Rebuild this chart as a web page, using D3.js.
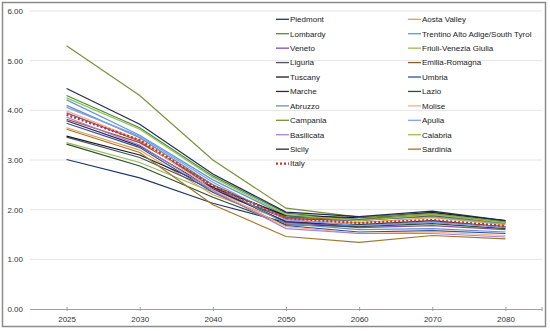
<!DOCTYPE html>
<html><head><meta charset="utf-8">
<script src="https://cdn.jsdelivr.net/npm/d3@7"></script>
<style>body{margin:0;background:#fff}svg{display:block;font-family:"Liberation Sans",Arial,sans-serif}</style>
</head><body><svg id="c" width="550" height="331"></svg>
<script>
const years = ["2025","2030","2040","2050","2060","2070","2080"];
const yTicks = [0,1,2,3,4,5,6];
const regions = ["Piedmont","Aosta Valley","Lombardy","Trentino Alto Adige/South Tyrol","Veneto","Friuli-Venezia Giulia","Liguria","Emilia-Romagna","Tuscany","Umbria","Marche","Lazio","Abruzzo","Molise","Campania","Apulia","Basilicata","Calabria","Sicily","Sardinia","Italy"];
const colors = ["#203864","#e0a15a","#4e8a3e","#5b9bd5","#7e50b0","#9bbb59","#44546a","#8b5a2b","#1a1a1a","#2e5597","#3c1f4f","#2f4f2f","#6a8fc0","#f4b183","#77933c","#7f9fef","#a77fd6","#92c050","#1f2d50","#a0782a","#c0392b"];
const piedmont   = [3.01,2.64,2.13,1.74,1.70,1.78,1.65];
const aosta      = [3.65,3.20,2.30,1.78,1.74,1.84,1.70];
const lombardy   = [4.30,3.65,2.68,1.93,1.80,1.95,1.77];
const trentino   = [4.21,3.50,2.60,1.88,1.80,1.86,1.72];
const veneto     = [3.95,3.38,2.45,1.75,1.64,1.68,1.60];
const friuli     = [3.35,2.95,2.35,1.85,1.80,1.87,1.73];
const liguria    = [3.46,3.05,2.40,1.82,1.78,1.88,1.74];
const emilia     = [3.82,3.35,2.50,1.85,1.80,1.90,1.75];
const tuscany    = [3.48,3.10,2.45,1.88,1.84,1.94,1.78];
const umbria     = [3.74,3.25,2.35,1.68,1.55,1.58,1.52];
const marche     = [3.79,3.28,2.42,1.76,1.68,1.75,1.66];
const lazio      = [3.32,2.88,2.25,1.70,1.66,1.72,1.62];
const abruzzo    = [4.10,3.45,2.50,1.72,1.60,1.62,1.55];
const molise     = [3.99,3.40,2.40,1.66,1.52,1.55,1.48];
const campania   = [5.30,4.30,3.00,2.03,1.85,1.92,1.76];
const apulia     = [4.06,3.48,2.55,1.80,1.68,1.75,1.65];
const basilicata = [3.86,3.30,2.38,1.62,1.52,1.52,1.45];
const calabria   = [4.25,3.62,2.65,1.90,1.78,1.90,1.74];
const sicily     = [4.44,3.72,2.72,1.95,1.86,1.97,1.78];
const sardinia   = [3.62,3.15,2.10,1.46,1.34,1.48,1.41];
const italy      = [3.91,3.40,2.48,1.83,1.73,1.79,1.67];
const values = [piedmont,aosta,lombardy,trentino,veneto,friuli,liguria,emilia,tuscany,umbria,marche,lazio,abruzzo,molise,campania,apulia,basilicata,calabria,sicily,sardinia,italy];

const svg = d3.select("#c");
svg.append("rect").attr("x",2.5).attr("y",2.5).attr("width",543).attr("height",324)
  .attr("fill","#fff").attr("stroke","#8c8c8c").attr("stroke-width",1.5);

const x = d3.scalePoint().domain(years).range([30,542]).padding(0.5);
const y = d3.scaleLinear().domain([0,6]).range([309,11]);

// gridlines
svg.append("g").selectAll("line").data(yTicks.filter(d=>d>0)).join("line")
  .attr("x1",30).attr("x2",542).attr("y1",d=>y(d)).attr("y2",d=>y(d))
  .attr("stroke","#e4e4e4").attr("stroke-width",1);

// y axis labels
const ya = svg.append("g").attr("transform","translate(23,0)")
  .call(d3.axisLeft(y).tickValues(yTicks).tickFormat(d3.format(".2f")).tickSize(0).tickPadding(0));
ya.select(".domain").remove();
ya.selectAll("text").attr("font-size",8).attr("fill","#333").attr("font-family","Liberation Sans, Arial, sans-serif");

// x axis
const xa = svg.append("g").attr("transform",`translate(0,${y(0)})`)
  .call(d3.axisBottom(x).tickSizeInner(3).tickSizeOuter(0).tickPadding(4));
xa.select(".domain").attr("stroke","#a0a0a0").attr("d","M30,0.5H542");
xa.selectAll(".tick line").attr("stroke","#a0a0a0").attr("y1",-2).attr("y2",2);
xa.selectAll("text").attr("font-size",8).attr("fill","#333").attr("font-family","Liberation Sans, Arial, sans-serif");
xa.append("line").attr("x1",542).attr("x2",542).attr("y1",-2).attr("y2",2).attr("stroke","#a0a0a0");

// lines
const line = d3.line().x((d,i)=>x(years[i])).y(d=>y(d));
const g = svg.append("g").attr("fill","none");
values.forEach((v,k)=>{
  const isItaly = regions[k]==="Italy";
  g.append("path").datum(v).attr("d",line)
    .attr("stroke",colors[k])
    .attr("stroke-width",isItaly?2.4:1.2)
    .attr("stroke-dasharray",isItaly?"2,2":null);
});

// legend
const leg = svg.append("g");
regions.forEach((r,k)=>{
  const col = k%2, row = Math.floor(k/2);
  const lx = col===0?276:408, ly = 19.3 + row*14.43;
  const isItaly = r==="Italy";
  leg.append("line").attr("x1",lx).attr("x2",lx+13).attr("y1",ly).attr("y2",ly)
    .attr("stroke",colors[k]).attr("stroke-width",isItaly?2.4:1.3)
    .attr("stroke-dasharray",isItaly?"2,2":null);
  leg.append("text").attr("x",lx+14).attr("y",ly).attr("dy","0.35em")
    .attr("font-size",8).attr("fill","#222").text(r);
});
</script></body></html>
